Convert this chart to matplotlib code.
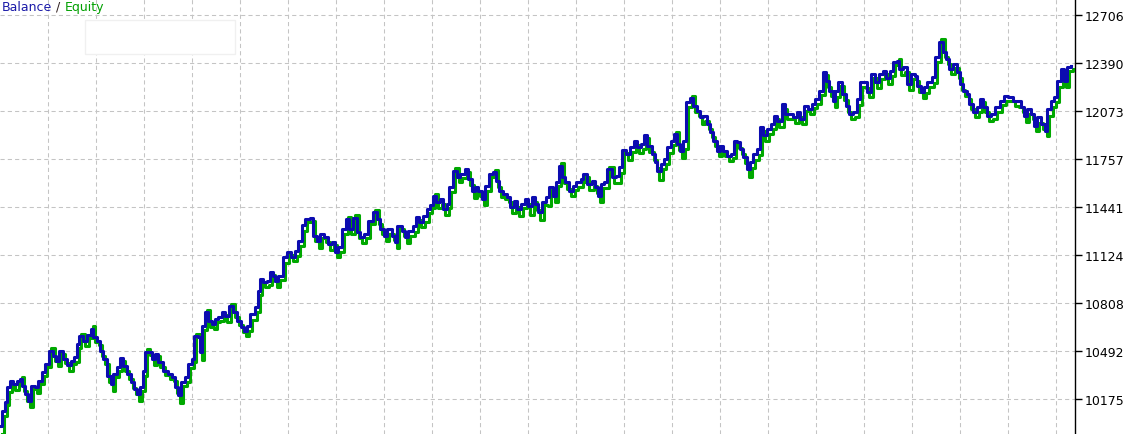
import matplotlib.pyplot as plt
from matplotlib.patches import Rectangle

# trade number (x) and balance
trade = [
    0, 2, 5, 7, 10, 13, 17, 20, 22, 25,
    28, 31, 35, 38, 42, 45, 49, 53, 56, 59,
    63, 67, 71, 74, 77, 79, 83, 87, 91, 93,
    97, 100, 103, 107, 111, 113, 117, 120, 123, 127,
    131, 134, 137, 140, 143, 145, 148, 152, 155, 158,
    163, 168, 172, 175, 178, 181, 185, 188, 192, 194,
    198, 200, 202, 205, 208, 212, 215, 218, 222, 225,
    229, 233, 237, 241, 244, 247, 250, 255, 258, 260,
    263, 267, 270, 273, 275, 278, 283, 287, 291, 295,
    298, 302, 305, 310, 313, 317, 320, 324, 328, 332,
    335, 338, 342, 346, 349, 353, 357, 360, 364, 368,
    373, 377, 380, 384, 387, 392, 395, 397, 402, 405,
    408, 413, 416, 419, 423, 427, 430, 433, 436, 440,
    443, 447, 449, 453, 457, 460, 465, 468, 472, 475,
    478, 482, 485, 489, 493, 496, 499, 503, 507, 510,
    514, 517, 521, 525, 528, 532, 535, 538, 542, 546,
    549, 553, 556, 559, 562, 565, 569, 573, 576, 581,
    583, 587, 592, 595, 598, 601, 604, 607, 612, 616,
    619, 622, 626, 630, 634, 637, 641, 644, 647, 652,
    655, 657, 661, 664, 667, 671, 674, 677, 680, 683,
    686, 690, 693, 697, 700, 703, 707, 710, 713, 717,
    720, 723, 727, 731, 734, 737, 740, 743, 747, 750,
    753, 757, 760, 763, 767, 771, 774, 777, 782, 785,
    790, 793, 797, 800, 804, 808, 812, 815, 819, 823,
    826, 829, 833, 835, 838, 842, 846, 849, 853, 857,
    860, 864, 867, 871, 875, 879, 883, 886, 890, 893,
    897, 899, 903, 907, 911, 915, 917, 921, 924, 927,
    932, 935, 939, 943, 946, 949, 953, 957, 960, 963,
    967, 969, 973, 977, 980, 983, 987, 991, 995, 1000,
    1004, 1008, 1013, 1017, 1021, 1024, 1027, 1031, 1034, 1037,
    1041, 1045, 1047, 1051, 1054, 1057, 1061, 1064, 1067, 1071,
]

balance = [
    9997, 10096, 10155, 10254, 10294, 10274, 10294, 10307, 10261, 10208,
    10162, 10261, 10254, 10294, 10353, 10406, 10491, 10459, 10426, 10491,
    10439, 10399, 10426, 10452, 10538, 10590, 10557, 10597, 10636, 10584,
    10557, 10491, 10439, 10327, 10274, 10340, 10386, 10445, 10393, 10340,
    10287, 10241, 10208, 10254, 10360, 10485, 10485, 10439, 10472, 10419,
    10360, 10340, 10320, 10254, 10201, 10287, 10320, 10406, 10439, 10590,
    10584, 10485, 10656, 10748, 10689, 10669, 10702, 10716, 10748, 10722,
    10788, 10748, 10689, 10650, 10623, 10656, 10735, 10781, 10887, 10966,
    10946, 10953, 11012, 10986, 10953, 10986, 11111, 11144, 11111, 11151,
    11216, 11322, 11362, 11368, 11249, 11216, 11263, 11243, 11197, 11210,
    11144, 11177, 11296, 11362, 11296, 11368, 11276, 11243, 11263, 11348,
    11408, 11362, 11296, 11249, 11296, 11249, 11210, 11315, 11282, 11243,
    11282, 11315, 11375, 11342, 11381, 11427, 11454, 11513, 11473, 11493,
    11427, 11460, 11572, 11678, 11638, 11658, 11691, 11625, 11546, 11572,
    11546, 11493, 11579, 11658, 11671, 11612, 11546, 11526, 11506, 11441,
    11480, 11427, 11460, 11493, 11447, 11506, 11460, 11408, 11473, 11506,
    11572, 11513, 11605, 11711, 11638, 11605, 11546, 11579, 11605, 11625,
    11658, 11592, 11612, 11572, 11513, 11592, 11605, 11691, 11638, 11645,
    11704, 11816, 11790, 11836, 11876, 11836, 11856, 11915, 11843, 11790,
    11737, 11678, 11724, 11757, 11836, 11876, 11922, 11856, 11810, 11876,
    12133, 12159, 12106, 12073, 12034, 12040, 11988, 11935, 11876, 11810,
    11843, 11810, 11777, 11790, 11876, 11869, 11823, 11770, 11691, 11737,
    11790, 11823, 11968, 11915, 11955, 11988, 12040, 12007, 12119, 12054,
    12054, 12034, 12067, 12021, 12106, 12087, 12119, 12152, 12205, 12330,
    12271, 12205, 12139, 12205, 12264, 12185, 12106, 12054, 12067, 12152,
    12264, 12264, 12199, 12317, 12264, 12317, 12337, 12291, 12337, 12396,
    12403, 12350, 12363, 12251, 12317, 12304, 12238, 12199, 12231, 12264,
    12297, 12429, 12528, 12462, 12416, 12350, 12383, 12330, 12251, 12205,
    12185, 12119, 12067, 12100, 12152, 12100, 12040, 12054, 12100, 12139,
    12172, 12166, 12139, 12139, 12100, 12040, 12087, 12054, 11974, 12034,
    11988, 11941, 12087, 12139, 12166, 12271, 12350, 12271, 12363, 12370,
]

# equity lags the balance by a couple of trades and dips under it
equity_trade = [
    2, 4, 7, 9, 12, 15, 19, 22, 24, 27,
    30, 33, 37, 40, 44, 47, 51, 55, 58, 61,
    65, 69, 73, 76, 79, 81, 85, 89, 93, 95,
    99, 102, 105, 109, 113, 115, 119, 122, 125, 129,
    133, 136, 139, 142, 145, 147, 150, 154, 157, 160,
    165, 170, 174, 177, 180, 183, 187, 190, 194, 196,
    200, 202, 204, 207, 210, 214, 217, 220, 224, 227,
    231, 235, 239, 243, 246, 249, 252, 257, 260, 262,
    265, 269, 272, 275, 277, 280, 285, 289, 293, 297,
    300, 304, 307, 312, 315, 319, 322, 326, 330, 334,
    337, 340, 344, 348, 351, 355, 359, 362, 366, 370,
    375, 379, 382, 386, 389, 394, 397, 399, 404, 407,
    410, 415, 418, 421, 425, 429, 432, 435, 438, 442,
    445, 449, 451, 455, 459, 462, 467, 470, 474, 477,
    480, 484, 487, 491, 495, 498, 501, 505, 509, 512,
    516, 519, 523, 527, 530, 534, 537, 540, 544, 548,
    551, 555, 558, 561, 564, 567, 571, 575, 578, 583,
    585, 589, 594, 597, 600, 603, 606, 609, 614, 618,
    621, 624, 628, 632, 636, 639, 643, 646, 649, 654,
    657, 659, 663, 666, 669, 673, 676, 679, 682, 685,
    688, 692, 695, 699, 702, 705, 709, 712, 715, 719,
    722, 725, 729, 733, 736, 739, 742, 745, 749, 752,
    755, 759, 762, 765, 769, 773, 776, 779, 784, 787,
    792, 795, 799, 802, 806, 810, 814, 817, 821, 825,
    828, 831, 835, 837, 840, 844, 848, 851, 855, 859,
    862, 866, 869, 873, 877, 881, 885, 888, 892, 895,
    899, 901, 905, 909, 913, 917, 919, 923, 926, 929,
    934, 937, 941, 945, 948, 951, 955, 959, 962, 965,
    969, 971, 975, 979, 982, 985, 989, 993, 997, 1002,
    1006, 1010, 1015, 1019, 1023, 1026, 1029, 1033, 1036, 1039,
    1043, 1047, 1049, 1053, 1056, 1059, 1063, 1066, 1069, 1073,
]

equity = [
    9945, 10064, 10133, 10222, 10272, 10237, 10272, 10322, 10229, 10161,
    10120, 10239, 10217, 10272, 10326, 10384, 10511, 10427, 10389, 10474,
    10412, 10362, 10404, 10420, 10511, 10605, 10525, 10575, 10656, 10552,
    10530, 10459, 10407, 10285, 10227, 10318, 10359, 10423, 10356, 10308,
    10250, 10209, 10161, 10227, 10328, 10505, 10463, 10402, 10455, 10387,
    10333, 10308, 10293, 10217, 10149, 10260, 10288, 10379, 10417, 10605,
    10552, 10433, 10629, 10763, 10652, 10637, 10680, 10689, 10731, 10685,
    10803, 10716, 10662, 10613, 10591, 10624, 10693, 10749, 10860, 10944,
    10914, 10926, 10995, 10954, 10916, 10959, 11069, 11127, 11084, 11119,
    11184, 11285, 11340, 11351, 11217, 11169, 11236, 11211, 11155, 11188,
    11112, 11145, 11259, 11377, 11264, 11388, 11239, 11206, 11236, 11326,
    11423, 11330, 11264, 11217, 11259, 11222, 11168, 11293, 11250, 11206,
    11250, 11273, 11353, 11310, 11344, 11400, 11432, 11528, 11436, 11461,
    11390, 11433, 11540, 11698, 11606, 11631, 11669, 11588, 11499, 11540,
    11514, 11451, 11547, 11636, 11686, 11575, 11509, 11494, 11474, 11399,
    11443, 11380, 11433, 11461, 11390, 11474, 11418, 11356, 11451, 11449,
    11550, 11476, 11578, 11731, 11596, 11558, 11514, 11552, 11573, 11603,
    11636, 11550, 11580, 11535, 11471, 11565, 11568, 11706, 11596, 11598,
    11662, 11794, 11748, 11804, 11849, 11799, 11824, 11898, 11801, 11753,
    11700, 11621, 11692, 11725, 11799, 11849, 11937, 11814, 11763, 11824,
    12101, 12174, 12069, 12041, 11987, 12008, 11951, 11903, 11839, 11778,
    11806, 11778, 11740, 11763, 11854, 11832, 11791, 11733, 11639, 11695,
    11748, 11781, 11941, 11873, 11918, 11956, 12018, 11970, 12087, 12017,
    12022, 11992, 12035, 11984, 12074, 12050, 12092, 12120, 12178, 12308,
    12234, 12173, 12102, 12163, 12237, 12143, 12064, 12022, 12035, 12115,
    12232, 12227, 12167, 12290, 12222, 12285, 12315, 12254, 12305, 12374,
    12418, 12313, 12331, 12209, 12285, 12272, 12201, 12157, 12194, 12232,
    12260, 12397, 12548, 12430, 12384, 12318, 12356, 12293, 12214, 12173,
    12153, 12087, 12035, 12068, 12130, 12063, 12008, 12017, 12068, 12112,
    12140, 12139, 12107, 12102, 12063, 12003, 12055, 12017, 11942, 11992,
    11956, 11909, 12040, 12102, 12134, 12234, 12318, 12229, 12336, 12348,
]

price_ticks = [10175, 10492, 10808, 11124, 11441, 11757, 12073, 12390, 12706]

BLUE = "#0c0cb0"
GREEN = "#00a800"

fig = plt.figure(figsize=(11.23, 4.35), dpi=100)
ax = fig.add_axes([0, 0, 1075 / 1123, 1])

ax.plot(equity_trade, equity, drawstyle="steps-post", color=GREEN, lw=2.2, zorder=3)
ax.plot(trade, balance, drawstyle="steps-post", color=BLUE, lw=2.2, zorder=4)

ax.set_xlim(0, 1075)
ax.set_ylim(9944, 12811)

# vertical grid every 48 trades, no labels
ax.set_xticks(range(48, 1075, 48))
ax.tick_params(axis="x", length=0, labelbottom=False)

ax.yaxis.tick_right()
ax.set_yticks(price_ticks)
ax.set_yticklabels([str(v) for v in price_ticks])
ax.tick_params(axis="y", direction="out", length=5, width=1, color="black",
               labelsize=9, pad=2, labelcolor="black")

ax.set_axisbelow(True)
ax.grid(True, color="#c4c4c4", linestyle=(0, (4, 3)), linewidth=0.75)

for side in ["left", "top", "bottom"]:
    ax.spines[side].set_visible(False)
ax.spines["right"].set_color("black")
ax.spines["right"].set_linewidth(1)

# faint leftover box near the legend
ax.add_patch(Rectangle((85 / 1075, 1 - 55 / 435), 150 / 1075, 34 / 435,
                       transform=ax.transAxes, facecolor="white",
                       edgecolor="#f0f0f0", lw=1, zorder=1.5))

t1 = ax.annotate("Balance", xy=(2 / 1075, 1 - 14 / 435), xycoords="axes fraction",
                 ha="left", va="bottom", fontsize=9, color="#1a1aa8")
t2 = ax.annotate(" / ", xy=(1, 0), xycoords=t1, ha="left", va="bottom",
                 fontsize=9, color="#302020")
ax.annotate("Equity", xy=(1, 0), xycoords=t2, ha="left", va="bottom",
            fontsize=9, color="#00a000")

fig.savefig("out.png", dpi=100)
